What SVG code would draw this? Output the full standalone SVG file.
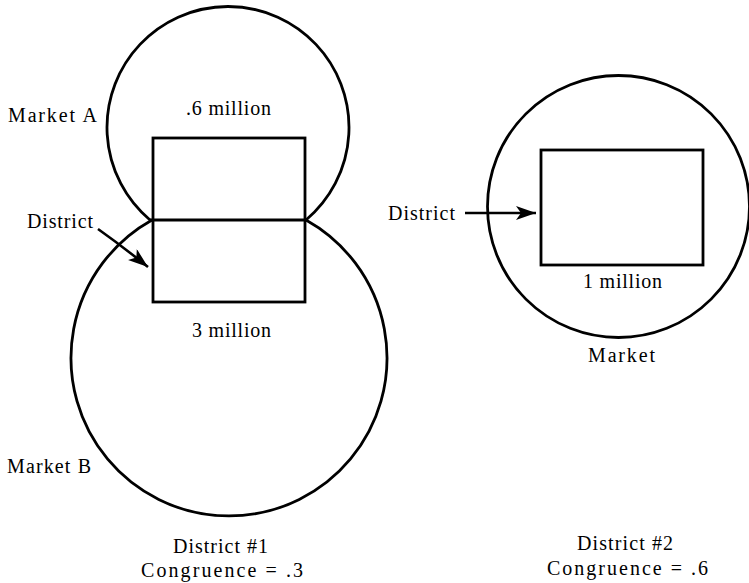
<svg xmlns="http://www.w3.org/2000/svg" width="749" height="583" viewBox="0 0 749 583">
<style>
.s{fill:none;stroke:#000;stroke-width:2.8}
.t{font-family:"Liberation Serif","Times New Roman",serif;font-size:20px;fill:#000}
.c{stroke:#000;stroke-width:2.6;fill:none}
</style>
<defs>
<marker id="ah" markerUnits="userSpaceOnUse" markerWidth="24" markerHeight="16" refX="20" refY="7" orient="auto">
<path d="M0,0 L20,7 L0,14 L5,7 Z" fill="#000"/>
</marker>
</defs>
<rect width="749" height="583" fill="#fff"/>
<g id="marketA">
<path class="s" d="M150,220 A121,121 0 1 1 306,220"/>
</g>
<g id="marketB">
<path class="s" d="M152,220 A158,158 0 1 0 306,220"/>
</g>
<g id="district1">
<rect class="s" x="153" y="138" width="152" height="164"/>
<line class="s" x1="150" y1="220" x2="308" y2="220"/>
</g>
<g id="market2">
<circle class="s" cx="618.5" cy="206.5" r="131"/>
</g>
<g id="district2">
<rect class="s" x="541" y="150" width="162" height="115"/>
</g>
<g id="connectors">
<path class="c" d="M98,229 Q122,246 148,267" marker-end="url(#ah)"/>
<line class="c" x1="465" y1="213" x2="536" y2="213" marker-end="url(#ah)"/>
</g>
<g id="labels">
<text class="t" x="8" y="122" textLength="89" lengthAdjust="spacing">Market A</text>
<text class="t" x="186" y="115" textLength="85" lengthAdjust="spacing">.6 million</text>
<text class="t" x="27" y="228" textLength="66" lengthAdjust="spacing">District</text>
<text class="t" x="192" y="337" textLength="79" lengthAdjust="spacing">3 million</text>
<text class="t" x="7" y="473" textLength="84" lengthAdjust="spacing">Market B</text>
<text class="t" x="173" y="553" textLength="95" lengthAdjust="spacing">District #1</text>
<text class="t" x="141" y="577" textLength="162" lengthAdjust="spacing">Congruence = .3</text>
<text class="t" x="388" y="220" textLength="67" lengthAdjust="spacing">District</text>
<text class="t" x="583" y="288" textLength="79" lengthAdjust="spacing">1 million</text>
<text class="t" x="588" y="362" textLength="67" lengthAdjust="spacing">Market</text>
<text class="t" x="577" y="550" textLength="96" lengthAdjust="spacing">District #2</text>
<text class="t" x="547" y="575" textLength="161" lengthAdjust="spacing">Congruence = .6</text>
</g>
</svg>
